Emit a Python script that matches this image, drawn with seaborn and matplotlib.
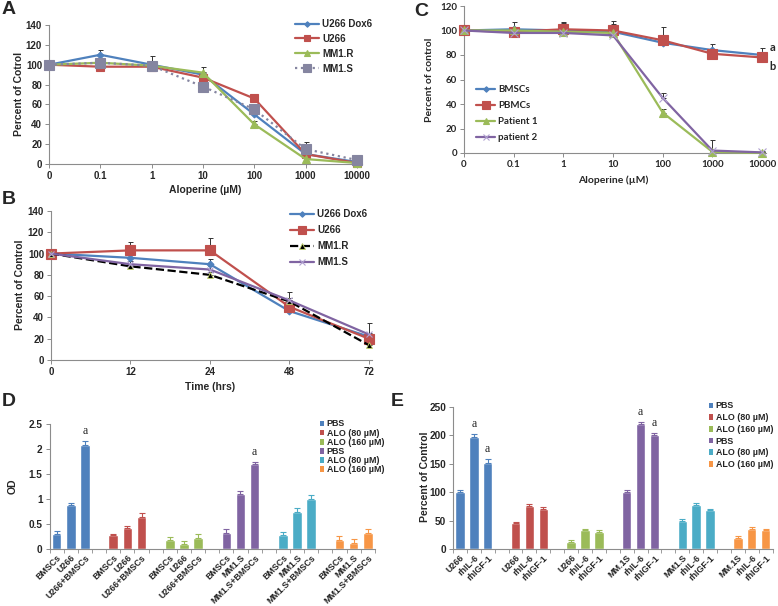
import numpy as np
import pandas as pd
import seaborn as sns
from matplotlib import pyplot as plt
from matplotlib.patches import Patch
from matplotlib.ticker import FuncFormatter

### data

dose_labels = ["0", "0.1", "1", "10", "100", "1000", "10000"]
time_labels = ["0", "12", "24", "48", "72"]

# panel A
a_names = ["U266 Dox6", "U266", "MM1.R", "MM1.S"]
a_dox6 = [100, 110, 100, 90, 50, 10, 2]
a_u266 = [100, 98, 98, 87, 66, 10, 1]
a_mm1r = [100, 102, 99, 92, 40, 5, 1]
a_mm1s = [100, 102, 99, 78, 55, 15, 4]
a_dox6_err = [0, 5, 3, 3, 4, 3, 1]
a_u266_err = [0, 2, 4, 4, 5, 3, 1]
a_mm1r_err = [0, 2, 3, 6, 3, 2, 1]
a_mm1s_err = [0, 3, 10, 5, 4, 7, 3]

# panel B
b_names = ["U266 Dox6", "U266", "MM1.R", "MM1.S"]
b_dox6 = [100, 96, 90, 46, 22]
b_u266 = [100, 103, 103, 50, 20]
b_mm1r = [100, 88, 80, 55, 14]
b_mm1s = [100, 90, 85, 56, 24]
b_dox6_err = [0, 3, 5, 3, 3]
b_u266_err = [0, 8, 12, 3, 3]
b_mm1r_err = [0, 2, 3, 3, 3]
b_mm1s_err = [0, 3, 3, 8, 11]

# panel C
c_names = ["BMSCs", "PBMCs", "Patient 1", "patient 2"]
c_bmsc = [100, 101, 100, 99, 90, 84, 80]
c_pbmc = [100, 99, 101, 100, 92, 81, 78]
c_pat1 = [100, 100, 99, 98, 33, 1, 0]
c_pat2 = [100, 98, 98, 96, 45, 2, 0.5]
c_bmsc_err = [0, 6, 6, 9, 3, 5, 6]
c_pbmc_err = [0, 3, 6, 5, 11, 3, 4]
c_pat1_err = [0, 2, 3, 3, 3, 1, 1]
c_pat2_err = [0, 3, 3, 4, 4, 9, 1]

# panels D and E (6 series x 3 bars)
bar_legend = ["PBS", "ALO (80 \u00b5M)", "ALO (160 \u00b5M)", "PBS", "ALO (80 \u00b5M)", "ALO (160 \u00b5M)"]
d_ticks = ["BMSCs", "U266", "U266+BMSCs"] * 3 + ["BMSCs", "MM1.S", "MM1.S+BMSCs"] * 3
d_vals = [0.30, 0.89, 2.09, 0.28, 0.42, 0.65, 0.18, 0.10, 0.23,
          0.33, 1.10, 1.70, 0.29, 0.75, 1.01, 0.19, 0.13, 0.33]
d_errs = [0.06, 0.04, 0.08, 0.03, 0.05, 0.07, 0.06, 0.06, 0.08,
          0.08, 0.06, 0.05, 0.06, 0.08, 0.08, 0.08, 0.07, 0.08]
d_sig = [2, 11]

e_ticks = (["U266", "rhIL-6", "rhIGF-1"] * 3 + ["MM.1S", "rhIL-6", "rhIGF-1"]
           + ["MM1.S", "rhIL-6", "rhIGF-1"] + ["MM.1S", "rhIL-6", "rhIGF-1"])
e_vals = [100, 198, 152, 45, 75, 70, 12, 34, 30,
          100, 220, 200, 50, 78, 68, 20, 35, 33]
e_errs = [4, 4, 6, 2, 4, 4, 3, 2, 3,
          4, 4, 4, 3, 3, 3, 3, 4, 3]
e_sig = [1, 2, 10, 11]

bar_colors = ["#4F81BD", "#C0504D", "#9BBB59", "#8064A2", "#4BACC6", "#F79646"]

### style
sns.set_style("ticks")
plt.rcParams['font.family'] = ['Liberation Sans', 'DejaVu Sans']
plt.rcParams['font.weight'] = 'bold'
plt.rcParams['axes.labelweight'] = 'bold'

W, H = 778, 606
fig = plt.figure(figsize=(W / 100, H / 100), dpi=100)
AXC = "#8c8c8c"


def add_ax(l, t, r, b):
    return fig.add_axes([l / W, 1 - b / H, (r - l) / W, (b - t) / H])


def style_ax(ax, size=7):
    sns.despine(ax=ax)
    for s in ["left", "bottom"]:
        ax.spines[s].set_color(AXC)
        ax.spines[s].set_linewidth(0.8)
    ax.tick_params(axis="both", length=3, width=0.7, color=AXC, pad=2, labelsize=size)


def line_panel(ax, labels, series, errs, names, styles):
    x = np.arange(len(labels))
    for vals, err, name, st in zip(series, errs, names, styles):
        sns.lineplot(x=x, y=vals, ax=ax, label=name, color=st["c"], marker=st["m"],
                     markersize=st["ms"], linestyle=st["ls"], linewidth=1.6,
                     markerfacecolor=st.get("mfc", st["c"]), markeredgecolor=st.get("mec", st["c"]),
                     markeredgewidth=st.get("mew", 0.8), clip_on=False, zorder=3)
        ax.errorbar(x, vals, yerr=[np.zeros(len(err)), err], fmt="none", ecolor="#333333",
                    elinewidth=0.7, capsize=1.8, capthick=0.7, zorder=2)
    ax.set_xticks(x)
    ax.set_xticklabels(labels)
    ax.set_xlabel("")
    ax.set_ylabel("")


def legend_at(ax, px, py, size, spacing, hlen, pad=0.3):
    leg = ax.legend(loc="upper left", bbox_to_anchor=(px / W, 1 - py / H), bbox_transform=fig.transFigure,
                    frameon=False, fontsize=size, labelspacing=spacing, handlelength=hlen,
                    handletextpad=pad, borderpad=0, borderaxespad=0, markerscale=0.8)
    return leg


### panel A
axA = add_ax(49, 25, 362, 164)
line_panel(axA, dose_labels,
           [a_dox6, a_u266, a_mm1r, a_mm1s],
           [a_dox6_err, a_u266_err, a_mm1r_err, a_mm1s_err], a_names,
           [dict(c="#4F81BD", m="D", ms=3.5, ls="-"),
            dict(c="#C0504D", m="s", ms=5.5, ls="-"),
            dict(c="#9BBB59", m="^", ms=5.5, ls="-"),
            dict(c="#8585A0", m="s", ms=7, ls=":")])
axA.set_xlim(0, 6.1)
axA.set_ylim(0, 140)
axA.set_yticks(range(0, 141, 20))
style_ax(axA)
legend_at(axA, 295, 19, 7, 0.5, 2.5)
fig.text(205 / W, 1 - 190 / H, "Aloperine (\u00b5M)", ha="center", va="center", fontsize=7.5)
fig.text(19 / W, 1 - 94 / H, "Percent of Cotrol", rotation=90, ha="center", va="center", fontsize=7.5)

### panel B
axB = add_ax(51, 211, 372, 360)
line_panel(axB, time_labels,
           [b_dox6, b_u266, b_mm1r, b_mm1s],
           [b_dox6_err, b_u266_err, b_mm1r_err, b_mm1s_err], b_names,
           [dict(c="#4F81BD", m="D", ms=3.5, ls="-"),
            dict(c="#C0504D", m="s", ms=6.5, ls="-"),
            dict(c="black", m="^", ms=5, ls="--", mec="#C8D870", mew=0.6),
            dict(c="#8064A2", m="x", ms=5, ls="-", mec="#B0A0D0")])
axB.set_xlim(0, 4.04)
axB.set_ylim(0, 140)
axB.set_yticks(range(0, 141, 20))
style_ax(axB)
legend_at(axB, 290, 209, 7, 0.62, 2.5)
fig.text(210 / W, 1 - 387 / H, "Time (hrs)", ha="center", va="center", fontsize=7.5)
fig.text(20 / W, 1 - 285 / H, "Percent of Control", rotation=90, ha="center", va="center", fontsize=7.5)

### panel C
axC = add_ax(464, 6, 766, 153)
line_panel(axC, dose_labels,
           [c_bmsc, c_pbmc, c_pat1, c_pat2],
           [c_bmsc_err, c_pbmc_err, c_pat1_err, c_pat2_err], c_names,
           [dict(c="#4F81BD", m="D", ms=3.5, ls="-"),
            dict(c="#C0504D", m="s", ms=6.5, ls="-"),
            dict(c="#9BBB59", m="^", ms=5.5, ls="-"),
            dict(c="#8064A2", m="x", ms=6, ls="-", mec="#B0A0D0")])
axC.set_xlim(0, 6.08)
axC.set_ylim(0, 120)
axC.set_yticks(range(0, 121, 20))
style_ax(axC)
for t in axC.get_xticklabels() + axC.get_yticklabels():
    t.set_fontfamily("Lato")
legend_at(axC, 476, 85, 7, 0.72, 2.0)
for t in axC.get_legend().get_texts():
    t.set_fontfamily("Lato")
axC.text(6.22, 86, "a", ha="center", va="center", fontsize=8, fontfamily="Lato", clip_on=False)
axC.text(6.22, 71, "b", ha="center", va="center", fontsize=8, fontfamily="Lato", clip_on=False)
fig.text(613 / W, 1 - 180 / H, "Aloperine (\u00b5M)", ha="center", va="center", fontsize=7.5, fontfamily="Lato")
fig.text(430 / W, 1 - 80 / H, "Percent of control", rotation=90, ha="center", va="center",
         fontsize=7.5, fontfamily="Lato")


### bar panels
def bar_panel(ax, vals, errs, ticks, sig, top, step, ylabel_fmt):
    pos = [4 * (i // 3) + i % 3 for i in range(len(vals))]
    grp = ["s%d" % (i // 3) for i in range(len(vals))]
    df = pd.DataFrame({"pos": pos, "val": vals, "err": errs, "grp": grp})
    pal = {"s%d" % g: c for g, c in enumerate(bar_colors)}
    sns.barplot(data=df, x="pos", y="val", hue="grp", palette=pal, native_scale=True,
                dodge=False, width=0.7, saturation=1, errorbar=None, legend=False, ax=ax)
    # keep bar width at 0.68 of a slot
    for p in ax.patches:
        cx = p.get_x() + p.get_width() / 2
        p.set_width(0.68)
        p.set_x(cx - 0.34)
    for g, c in enumerate(bar_colors):
        sub = df[df.grp == "s%d" % g]
        ax.errorbar(sub.pos, sub.val, yerr=[np.zeros(len(sub)), sub.err], fmt="none", ecolor=c,
                    elinewidth=0.8, capsize=2, capthick=0.8)
    for i in sig:
        ax.text(pos[i], vals[i] + errs[i] + top * 0.03, "a", ha="center", va="bottom",
                fontsize=8.5, fontfamily="Liberation Serif", fontweight="normal")
    ax.set_xlim(-0.5, 22.5)
    ax.set_ylim(0, top)
    ax.set_yticks(np.arange(0, top + step / 2, step))
    ax.yaxis.set_major_formatter(FuncFormatter(ylabel_fmt))
    style_ax(ax, 7.2)
    ax.set_xticks(pos)
    ax.set_xticklabels(ticks, rotation=45, ha="right", va="top", rotation_mode="anchor", fontsize=6.4)
    ax.set_xticks(np.arange(-0.5, 23, 1), minor=True)
    ax.tick_params(axis="x", which="major", length=0, pad=3)
    ax.tick_params(axis="x", which="minor", length=3, width=0.6, color=AXC)
    ax.set_xlabel("")
    ax.set_ylabel("")


def bar_legend_at(ax, px, py, spacing):
    handles = [Patch(facecolor=c, edgecolor="none", label=l) for c, l in zip(bar_colors, bar_legend)]
    ax.legend(handles=handles, loc="upper left", bbox_to_anchor=(px / W, 1 - py / H),
              bbox_transform=fig.transFigure, frameon=False, fontsize=6.4, labelspacing=spacing,
              handlelength=0.45, handleheight=0.6, handletextpad=0.3, borderpad=0, borderaxespad=0)


axD = add_ax(49.6, 424, 374.8, 549)
bar_panel(axD, d_vals, d_errs, d_ticks, d_sig, 2.5, 0.5, lambda v, p: "%g" % v)
bar_legend_at(axD, 320, 419.5, 0.02)
fig.text(13 / W, 1 - 486 / H, "OD", rotation=90, ha="center", va="center", fontsize=7.5)

axE = add_ax(453, 407, 772.6, 549)
bar_panel(axE, e_vals, e_errs, e_ticks, e_sig, 250, 50, lambda v, p: "%d" % v)
bar_legend_at(axE, 709, 401.5, 0.3)
fig.text(425 / W, 1 - 477 / H, "Percent of Control", rotation=90, ha="center", va="center", fontsize=7.5)

### panel letters
for lbl, x, y in [("A", 8.5, 10), ("B", 8.5, 200), ("C", 421, 11), ("D", 8.5, 401), ("E", 397, 402)]:
    fig.text(x / W, 1 - y / H, lbl, ha="center", va="center", fontsize=14, fontweight="bold")

plt.savefig("out.png", dpi=100)
